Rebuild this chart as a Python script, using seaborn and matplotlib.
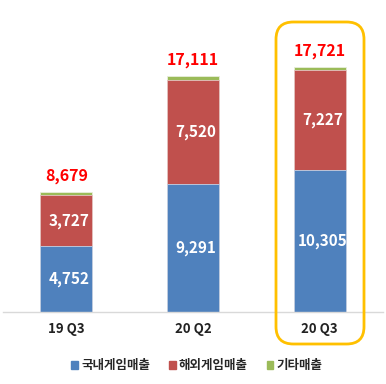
import numpy as np
import pandas as pd
import matplotlib
matplotlib.use("Agg")
import matplotlib.pyplot as plt
import seaborn as sns
from matplotlib.patches import FancyBboxPatch, Patch

# data
quarters = ['19 Q3', '20 Q2', '20 Q3']
domestic = [4752, 9291, 10305]
overseas = [3727, 7520, 7227]
totals = [8679, 17111, 17721]
other = [t - d - o for t, d, o in zip(totals, domestic, overseas)]
series_names = ['국내게임매출', '해외게임매출', '기타매출']

sns.set_style('white')
plt.rcParams['font.family'] = ['Noto Sans CJK KR', 'DejaVu Sans']

df = pd.DataFrame({'quarter': quarters, 'domestic': domestic,
                   'overseas': overseas, 'other': other})
df['lvl2'] = df['domestic'] + df['overseas']
df['lvl3'] = df['lvl2'] + df['other']

blue, red, green = '#4F81BD', '#C0504D', '#9BBB59'

fig = plt.figure(figsize=(3.86, 3.84), dpi=100)
ax = fig.add_axes([3 / 386, 72 / 384, 380 / 386, 276 / 384])

w = 0.41
sns.barplot(data=df, x='quarter', y='lvl3', color=green, width=w, ax=ax,
            edgecolor='#E8EEDC', linewidth=0.6, saturation=1)
sns.barplot(data=df, x='quarter', y='lvl2', color=red, width=w, ax=ax,
            edgecolor='#E6C4C3', linewidth=0.6, saturation=1)
sns.barplot(data=df, x='quarter', y='domestic', color=blue, width=w, ax=ax,
            edgecolor='#C5D3E6', linewidth=0.6, saturation=1)

for i in range(len(quarters)):
    ax.text(i + 0.02, domestic[i] / 2, f'{domestic[i]:,}', color='white',
            ha='center', va='center', fontsize=11, fontweight='bold')
    ax.text(i + 0.02, domestic[i] + overseas[i] / 2, f'{overseas[i]:,}',
            color='white', ha='center', va='center', fontsize=11,
            fontweight='bold')
    ax.annotate(f'{totals[i]:,}', (i, totals[i]), xytext=(0, 6),
                textcoords='offset points', ha='center', va='bottom',
                color='#FF0000', fontsize=11.5, fontweight='bold')

ax.set_xlim(-0.5, 2.5)
ax.set_ylim(0, 20000)
ax.set_xlabel('')
ax.set_ylabel('')
ax.set_yticks([])
ax.tick_params(axis='x', length=0, pad=7)
for lbl in ax.get_xticklabels():
    lbl.set_fontweight('bold')
    lbl.set_fontsize(9.5)
    lbl.set_color('#222222')
for s in ['top', 'right', 'left']:
    ax.spines[s].set_visible(False)
ax.spines['bottom'].set_color('#D9D9D9')
ax.spines['bottom'].set_linewidth(1)

# highlight box around latest quarter
box = FancyBboxPatch((276 / 386, 40 / 384), 88 / 386, 322 / 384,
                     boxstyle='round,pad=0,rounding_size=0.045',
                     transform=fig.transFigure, fill=False,
                     edgecolor='#FFC000', linewidth=2, zorder=5)
fig.patches.append(box)

handles = [Patch(color=c) for c in (blue, red, green)]
leg = fig.legend(handles, series_names, loc='center', ncol=3,
                 bbox_to_anchor=(0.51, 18 / 384), frameon=False,
                 handlelength=0.55, handleheight=0.55, handletextpad=0.25,
                 columnspacing=1.5, prop={'weight': 'bold', 'size': 9})

fig.savefig('out.png', dpi=100)
